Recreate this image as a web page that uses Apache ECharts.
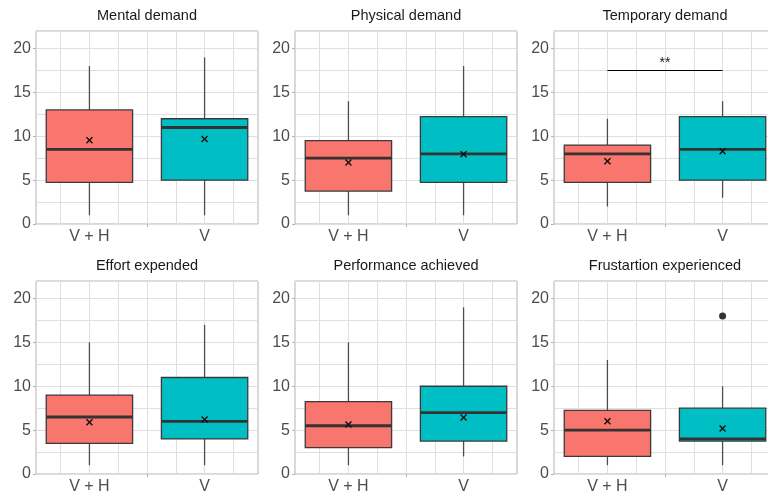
<!DOCTYPE html>
<html>
<head>
<meta charset="utf-8">
<script src="https://cdn.jsdelivr.net/npm/echarts@6/dist/echarts.min.js"></script>
<style>html,body{margin:0;padding:0;background:#fff}#c{width:768px;height:495px}</style>
</head>
<body>
<div id="c"></div>
<script>
// ---- data ----
const panelTitles = ['Mental demand', 'Physical demand', 'Temporary demand',
                     'Effort expended', 'Performance achieved', 'Frustartion experienced'];
const groups = ['V + H', 'V'];
const groupColors = ['#F8766D', '#00BFC4'];
// per panel: [V + H, V]
const lowerWhisker = [[1, 1], [1, 1], [2, 3], [1, 1], [1, 2], [1, 1]];
const q1Values     = [[4.75, 5], [3.75, 4.75], [4.75, 5], [3.5, 4], [3, 3.75], [2, 3.75]];
const medians      = [[8.5, 11], [7.5, 8], [8, 8.5], [6.5, 6], [5.5, 7], [5, 4]];
const q3Values     = [[13, 12], [9.5, 12.25], [9, 12.25], [9, 11], [8.25, 10], [7.25, 7.5]];
const upperWhisker = [[18, 19], [14, 18], [12, 14], [15, 17], [15, 19], [13, 10]];
const means        = [[9.55, 9.7], [7.0, 7.95], [7.15, 8.3], [5.9, 6.2], [5.65, 6.45], [6.0, 5.2]];
const outliers     = [[], [], [], [], [], [[2, 18]]]; // [group position, value]
const significance = [{ panel: 2, from: 1, to: 2, y: 17.5, label: '**' }];
const yTickLabels  = [0, 5, 10, 15, 20];
const xGridValues  = [0.75, 1, 1.25, 1.5, 1.75, 2, 2.25];
const xTickValues  = [1.5];

// ---- layout ----
const FONT = '"Liberation Sans", Arial, sans-serif';
const CANVAS_W = 768;
const colLeft = [36, 295, 554];
const rowTop = [31, 281];
const W = 222, H = 193;
const X_MIN = 0.536, X_MAX = 2.464, Y_MIN = 0, Y_MAX = 22, BOX_W = 0.75;

const grids = [], xAxes = [], yAxes = [], series = [], graphics = [];
for (let p = 0; p < 6; p++) {
  const r = Math.floor(p / 3), c = p % 3;
  // panels on the right edge are cut by the canvas edge
  const w = Math.min(W, CANVAS_W + 1 - colLeft[c]);
  const xMax = X_MIN + (X_MAX - X_MIN) * w / W;
  grids.push({ left: colLeft[c], top: rowTop[r], width: w, height: H, outerBoundsMode: 'none',
    containLabel: false,
    show: true, backgroundColor: '#fff', borderColor: '#b3b3b3', borderWidth: 1 });
  xAxes.push({
    type: 'value', gridIndex: p, min: X_MIN, max: xMax,
    axisLine: { show: false },
    axisTick: { show: false, customValues: xGridValues },
    splitLine: { show: true, lineStyle: { color: '#dfdfdf', width: 1 } },
    axisLabel: { customValues: [1, 2], formatter: v => groups[Math.round(v) - 1],
      fontSize: 16, color: '#4d4d4d', fontFamily: FONT, margin: 5 }
  });
  xAxes.push({
    type: 'value', gridIndex: p, min: X_MIN, max: xMax, position: 'bottom',
    axisLine: { show: false }, splitLine: { show: false }, axisLabel: { show: false },
    axisTick: { show: true, customValues: xTickValues, length: 3, lineStyle: { color: '#b3b3b3' } }
  });
  yAxes.push({
    type: 'value', gridIndex: p, min: Y_MIN, max: Y_MAX, interval: 2.5,
    axisLine: { show: false }, axisTick: { show: false },
    splitLine: { show: true, lineStyle: { color: '#dfdfdf', width: 1 } },
    axisLabel: { formatter: v => (yTickLabels.indexOf(v) >= 0 ? String(v) : ''),
      fontSize: 16, color: '#4d4d4d', fontFamily: FONT, margin: 5 }
  });
  yAxes.push({
    type: 'value', gridIndex: p, min: Y_MIN, max: Y_MAX, position: 'left',
    axisLine: { show: false }, splitLine: { show: false }, axisLabel: { show: false },
    axisTick: { show: true, customValues: yTickLabels, length: 3, lineStyle: { color: '#b3b3b3' } }
  });
  graphics.push({
    type: 'text', x: colLeft[c] + W / 2, y: rowTop[r] - 15, z: 10,
    style: { text: panelTitles[p], fontSize: 14.5, fontFamily: FONT, fill: '#1a1a1a',
      textAlign: 'center', textVerticalAlign: 'middle' }
  });
  const data = [0, 1].map(g => ({
    value: [g + 1, lowerWhisker[p][g], q1Values[p][g], medians[p][g], q3Values[p][g], upperWhisker[p][g], means[p][g]],
    itemStyle: { color: groupColors[g] }
  }));
  const sig = significance.filter(s => s.panel === p);
  series.push({
    type: 'custom', xAxisIndex: 2 * p, yAxisIndex: 2 * p, z: 3,
    encode: { x: 0, y: [1, 2, 3, 4, 5] },
    data: data,
    renderItem: function (params, api) {
      const x = api.value(0);
      const pLo = api.coord([x, api.value(1)]);
      const pQ1 = api.coord([x, api.value(2)]);
      const pMed = api.coord([x, api.value(3)]);
      const pQ3 = api.coord([x, api.value(4)]);
      const pHi = api.coord([x, api.value(5)]);
      const pMean = api.coord([x, api.value(6)]);
      const half = api.size([BOX_W, 0])[0] / 2;
      const fill = groupColors[params.dataIndex];
      const d = 3;
      return {
        type: 'group',
        children: [
          { type: 'line', shape: { x1: pHi[0], y1: pHi[1], x2: pQ3[0], y2: pQ3[1] },
            style: { stroke: '#4d4d4d', lineWidth: 1.3 } },
          { type: 'line', shape: { x1: pLo[0], y1: pLo[1], x2: pQ1[0], y2: pQ1[1] },
            style: { stroke: '#4d4d4d', lineWidth: 1.3 } },
          { type: 'rect', shape: { x: pQ3[0] - half, y: pQ3[1], width: half * 2, height: pQ1[1] - pQ3[1] },
            style: { fill: fill, stroke: '#3a3a3a', lineWidth: 1.3 } },
          { type: 'line', shape: { x1: pMed[0] - half, y1: pMed[1], x2: pMed[0] + half, y2: pMed[1] },
            style: { stroke: '#333333', lineWidth: 2.8 } },
          { type: 'line', shape: { x1: pMean[0] - d, y1: pMean[1] - d, x2: pMean[0] + d, y2: pMean[1] + d },
            style: { stroke: '#111', lineWidth: 1.4 } },
          { type: 'line', shape: { x1: pMean[0] - d, y1: pMean[1] + d, x2: pMean[0] + d, y2: pMean[1] - d },
            style: { stroke: '#111', lineWidth: 1.4 } }
        ]
      };
    },
    markLine: sig.length ? {
      silent: true, symbol: 'none', animation: false,
      lineStyle: { color: '#000', width: 1, type: 'solid', opacity: 1 },
      label: { show: true, position: 'insideMiddleTop', formatter: sig[0].label,
        fontSize: 14, color: '#1a1a1a', fontFamily: FONT, distance: 0 },
      data: sig.map(s => [{ coord: [s.from, s.y] }, { coord: [s.to, s.y] }])
    } : undefined
  });
  if (outliers[p].length) {
    series.push({
      type: 'scatter', xAxisIndex: 2 * p, yAxisIndex: 2 * p, z: 4,
      symbol: 'circle', symbolSize: 7, itemStyle: { color: '#333333', opacity: 1 },
      data: outliers[p]
    });
  }
}

const chart = echarts.init(document.getElementById('c'), null, { renderer: 'canvas' });
chart.setOption({
  animation: false,
  backgroundColor: '#fff',
  grid: grids, xAxis: xAxes, yAxis: yAxes, series: series, graphic: graphics
});
</script>
</body>
</html>
